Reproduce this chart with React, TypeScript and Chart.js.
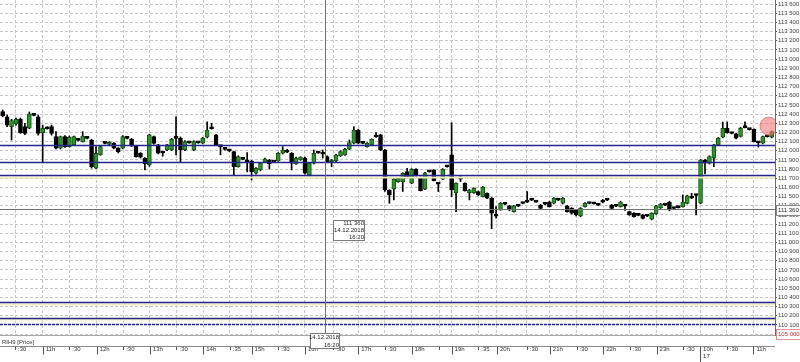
import React, { useEffect, useRef } from 'react';
import { Chart, registerables } from 'chart.js';

Chart.register(...registerables);

// 5-minute candles, RIH9
const opens = [
  112426, 112370, 112262, 112292, 112343, 112262, 112245, 112395, 112370, 112197,
  112250, 112262, 112153, 112027, 112153, 112044, 112063, 112120, 112100, 112140,
  112117, 111810, 111954, 112090, 112070, 112080, 112030, 112027, 112140, 112125,
  112052, 111972, 111921, 111845, 112153, 112063, 111990, 112008, 112008, 112140,
  112139, 112008, 112090, 112008, 112090, 112082, 112147, 112248, 112172, 112050,
  112020, 112005, 111990, 111826, 111910, 111885, 111888, 111754, 111790, 111877,
  111899, 111880, 111890, 111972, 112008, 111972, 111856, 111899, 111921, 111736,
  111863, 111980, 111968, 111935, 111877, 111888, 111943, 111954, 112016, 112082,
  112226, 112085, 112044, 112063, 112155, 112172, 112008, 111572, 111580, 111662,
  111662, 111772, 111645, 111798, 111710, 111580, 111775, 111790, 111640, 111690,
  111830, 111954, 111542, 111695, 111645, 111542, 111542, 111553, 111500, 111536,
  111482, 111292, 111354, 111422, 111398, 111335, 111402, 111430, 111445, 111466,
  111445, 111408, 111422, 111441, 111427, 111466, 111427, 111398, 111372, 111354,
  111289, 111390, 111430, 111428, 111412, 111443, 111466, 111408, 111400, 111390,
  111400, 111335, 111318, 111300, 111300, 111292, 111253, 111310, 111376, 111412,
  111441, 111376, 111385, 111390, 111425, 111488, 111520, 111427, 111899, 111863,
  111918, 112063, 112147, 112245, 112194, 112183, 112155, 112258, 112236, 112234,
  112092, 112082, 112158, 112147,
];
const highs = [
  112444, 112390, 112343, 112357, 112357, 112300, 112423, 112400, 112390, 112280,
  112260, 112280, 112208, 112160, 112165, 112160, 112160, 112125, 112208, 112145,
  112125, 112044, 112055, 112095, 112100, 112090, 112035, 112165, 112145, 112135,
  112060, 111980, 111925, 112180, 112160, 112070, 111995, 112070, 112135, 112370,
  112150, 112110, 112095, 112110, 112095, 112145, 112314, 112300, 112180, 112055,
  112025, 112010, 111995, 111945, 111915, 111980, 111895, 111815, 111870, 111920,
  111905, 111885, 111980, 112044, 112015, 111980, 111930, 111935, 111930, 111870,
  112008, 111985, 112008, 111945, 111905, 111960, 112000, 112025, 112117, 112262,
  112235, 112090, 112090, 112130, 112197, 112180, 112015, 111575, 111695, 111705,
  111760, 111808, 111805, 111805, 111715, 111765, 111780, 111795, 111645, 111805,
  111835, 112306, 111650, 111718, 111650, 111580, 111595, 111560, 111610, 111540,
  111490, 111390, 111435, 111430, 111405, 111405, 111408, 111435, 111555, 111470,
  111450, 111415, 111428, 111450, 111490, 111470, 111490, 111405, 111380, 111360,
  111380, 111435, 111435, 111432, 111418, 111470, 111470, 111415, 111405, 111450,
  111405, 111340, 111325, 111305, 111305, 111296, 111325, 111405, 111425, 111418,
  111450, 111380, 111390, 111518, 111515, 111535, 111525, 111905, 111905, 111945,
  112070, 112145, 112314, 112314, 112200, 112190, 112255, 112314, 112242, 112240,
  112097, 112160, 112162, 112215,
];
const lows = [
  112370, 112262, 112117, 112280, 112190, 112175, 112240, 112380, 112170, 111880,
  112235, 112170, 112020, 112020, 112035, 112040, 112055, 112105, 112095, 112130,
  111810, 111805, 111950, 112075, 112065, 112020, 111975, 112020, 112130, 112045,
  111930, 111920, 111790, 111830, 112070, 111965, 111940, 112000, 112000, 111955,
  111870, 112000, 112080, 112000, 112080, 112075, 112140, 112235, 112055, 111955,
  112005, 111990, 111735, 111820, 111900, 111770, 111681, 111745, 111780, 111870,
  111800, 111870, 111885, 111965, 111980, 111790, 111850, 111895, 111745, 111725,
  111855, 111970, 111920, 111875, 111825, 111880, 111935, 111950, 112010, 112075,
  112075, 112075, 112040, 112055, 112145, 112000, 111555, 111427, 111463, 111655,
  111555, 111705, 111640, 111720, 111560, 111575, 111765, 111670, 111555, 111685,
  111820, 111500, 111335, 111665, 111560, 111463, 111535, 111510, 111495, 111478,
  111150, 111265, 111350, 111410, 111345, 111330, 111390, 111420, 111435, 111455,
  111435, 111365, 111410, 111385, 111420, 111455, 111420, 111330, 111310, 111290,
  111280, 111385, 111420, 111418, 111400, 111432, 111455, 111365, 111390, 111385,
  111350, 111295, 111275, 111290, 111255, 111280, 111245, 111305, 111370, 111400,
  111345, 111365, 111375, 111385, 111420, 111478, 111300, 111420, 111747, 111855,
  111826, 112055, 112140, 112190, 112183, 112130, 112150, 112248, 112225, 112095,
  112040, 112075, 112148, 112140,
];
const closes = [
  112379, 112280, 112328, 112343, 112197, 112190, 112401, 112385, 112190, 112245,
  112240, 112190, 112027, 112153, 112044, 112147, 112153, 112112, 112161, 112135,
  111826, 111972, 112044, 112080, 112090, 112027, 111990, 112153, 112135, 112052,
  111936, 111930, 111856, 112172, 112080, 111972, 111975, 112063, 112125, 112135,
  112008, 112100, 112085, 112100, 112085, 112139, 112226, 112240, 112063, 112045,
  112015, 111998, 111826, 111936, 111905, 111880, 111772, 111808, 111863, 111910,
  111856, 111875, 111972, 112008, 111985, 111863, 111921, 111930, 111754, 111863,
  111972, 111975, 111962, 111880, 111899, 111953, 111990, 112016, 112088, 112226,
  112082, 112080, 112082, 112125, 112150, 112008, 111572, 111518, 111689, 111700,
  111754, 111710, 111798, 111725, 111564, 111760, 111770, 111674, 111635, 111798,
  111825, 111572, 111645, 111690, 111565, 111572, 111590, 111518, 111602, 111482,
  111318, 111286, 111427, 111416, 111354, 111398, 111396, 111424, 111440, 111460,
  111440, 111372, 111416, 111390, 111481, 111460, 111481, 111335, 111318, 111299,
  111372, 111427, 111424, 111422, 111406, 111438, 111460, 111372, 111394, 111441,
  111394, 111299, 111281, 111294, 111262, 111286, 111318, 111398, 111419, 111406,
  111354, 111370, 111380, 111441, 111507, 111482, 111512, 111899, 111863, 111936,
  112063, 112136, 112245, 112197, 112188, 112136, 112245, 112252, 112230, 112099,
  112086, 112153, 112152, 112208,
];

const levelLines = [112059, 111877, 111732, 110354, 110180, 110105];
const paleLines = [111712, 110330, 110160];
const crossIndex = 72.5;
const crossValue = 111360;
const crossDate = '14.12.2018';
const crossTime = '16:20';
const markerIndex = 172.4;
const markerValue = 112268;
const redAxisLabel = '105 000';
const seriesName = 'RIH9 [Price]';

const xTickPositions = [
  2.8, 9, 15, 21.15, 27.1, 33.1, 39.1, 45.1, 51.1, 56, 62, 68, 74.4, 80, 86, 92,
  98.2, 101, 107, 111.2, 117.9, 123.1, 129.1, 135.1, 141.1, 147.1, 153.1, 156.9,
  162.9, 168.9,
];
const xTickLabels = [
  ':30', '11h', ':30', '12h', ':30', '13h', ':30', '14h', ':35', '15h', ':30', '16h',
  ':30', '17h', ':30', '18h', '', '19h', ':35', '20h', ':30', '21h', ':30', '22h',
  ':30', '23h', ':30', '10h', ':30', '11h',
];
const dayChangeLabel = '10h';
const dayChangeDate = '17';

const yMin = 109990;
const yMax = 113644;
const yTickValues = Array.from({ length: 37 }, (_, i) => 110000 + i * 100);

const FAMILY = "'Liberation Sans', Arial, sans-serif";
const CFONT = `6px ${FAMILY}`;

const fmt = (v: number) => `${Math.floor(v / 1000)} ${String(Math.round(v) % 1000).padStart(3, '0')}`;

const overlay = {
  id: 'overlay',
  afterDatasetsDraw(chart: any) {
    const { ctx, chartArea: a, scales } = chart;
    const x = scales.x;
    const y = scales.y;
    ctx.save();
    ctx.beginPath();
    ctx.rect(a.left, a.top, a.right - a.left, a.bottom - a.top);
    ctx.clip();
    const hline = (v: number, color: string, w: number, dash: number[] = []) => {
      const py = Math.round(y.getPixelForValue(v)) + 0.5;
      ctx.strokeStyle = color;
      ctx.lineWidth = w;
      ctx.setLineDash(dash);
      ctx.beginPath();
      ctx.moveTo(a.left, py);
      ctx.lineTo(a.right, py);
      ctx.stroke();
    };
    paleLines.forEach((v) => hline(v, '#f3efc4', 2));
    levelLines.forEach((v, i) => hline(v, '#25258e', 1.5, i === levelLines.length - 1 ? [3, 1] : []));
    // crosshair
    hline(crossValue, '#707070', 1);
    const cx = Math.round(x.getPixelForValue(crossIndex)) + 0.5;
    ctx.setLineDash([]);
    ctx.beginPath();
    ctx.moveTo(cx, a.top);
    ctx.lineTo(cx, a.bottom);
    ctx.stroke();
    ctx.restore();
  },
  afterDraw(chart: any) {
    const { ctx, chartArea: a, scales } = chart;
    const x = scales.x;
    const y = scales.y;
    ctx.save();
    ctx.font = CFONT;
    ctx.textBaseline = 'middle';
    // series name
    ctx.fillStyle = '#333';
    ctx.textAlign = 'left';
    ctx.fillText(seriesName, 2, a.bottom + 7);
    // time band line
    const bandY = a.bottom + 11.5;
    ctx.strokeStyle = '#8a8a8a';
    ctx.lineWidth = 1;
    ctx.beginPath();
    ctx.moveTo(a.left, bandY);
    ctx.lineTo(a.right, bandY);
    ctx.stroke();
    ctx.strokeStyle = '#555';
    xTickPositions.forEach((v, i) => {
      const px = Math.round(x.getPixelForValue(v)) + 0.5;
      const lab = xTickLabels[i];
      const isHour = lab.endsWith('h');
      const len = lab === dayChangeLabel ? 16 : isHour ? 8 : 3.5;
      ctx.beginPath();
      ctx.moveTo(px, bandY);
      ctx.lineTo(px, bandY + len);
      ctx.stroke();
    });
    // crosshair boxes
    const cx = Math.round(x.getPixelForValue(crossIndex)) + 0.5;
    const cy = Math.round(y.getPixelForValue(crossValue)) + 0.5;
    const box = (l: number, t: number, w: number, h: number, stroke: string) => {
      ctx.fillStyle = '#fff';
      ctx.fillRect(l, t, w, h);
      ctx.strokeStyle = stroke;
      ctx.lineWidth = 1;
      ctx.strokeRect(l + 0.5, t + 0.5, w - 1, h - 1);
    };
    // in plot
    const bl = Math.round(cx + 7);
    const bt = Math.round(cy + 10);
    box(bl, bt, 32, 21, '#7a7a7a');
    ctx.fillStyle = '#222';
    ctx.textAlign = 'right';
    ctx.fillText(fmt(crossValue), bl + 31, bt + 3.5);
    ctx.fillText(crossDate, bl + 31, bt + 10.5);
    ctx.fillText(crossTime, bl + 31, bt + 17.5);
    // on x band
    const xl = Math.round(cx - 15.5);
    const xt = Math.round(a.bottom - 2);
    box(xl, xt, 30, 16, '#7a7a7a');
    ctx.fillStyle = '#222';
    ctx.fillText(crossDate, xl + 29, xt + 4.5);
    ctx.fillText(crossTime, xl + 29, xt + 12);
    // on y axis
    box(a.right + 1, Math.round(cy - 5), 25, 11, '#8a8a8a');
    ctx.fillStyle = '#222';
    ctx.textAlign = 'left';
    ctx.fillText(fmt(crossValue), a.right + 3, cy + 0.5);
    // red label at bottom
    box(a.right + 1, Math.round(a.bottom - 6), 25, 11, '#e29090');
    ctx.fillStyle = '#d02a2a';
    ctx.fillText(redAxisLabel, a.right + 3, a.bottom - 0.5);
    ctx.restore();
  },
};

export default function App() {
  const ref = useRef<HTMLCanvasElement>(null);
  useEffect(() => {
    const canvas = ref.current;
    if (!canvas) return;
    const idx = opens.map((_, i) => i);
    const up = idx.map((i) => closes[i] > opens[i]);
    const bodies = idx.map((i) => ({ x: i, y: [Math.min(opens[i], closes[i]), Math.max(opens[i], closes[i])] }));
    const wicks = idx.map((i) => ({ x: i, y: [lows[i], highs[i]] }));
    const font = { family: FAMILY, size: 6 };
    const chart = new Chart(canvas, {
      type: 'bar',
      data: {
        datasets: [
          {
            type: 'scatter',
            data: [{ x: markerIndex, y: markerValue }],
            pointRadius: 9,
            backgroundColor: 'rgba(238,120,120,0.6)',
            borderColor: 'rgba(215,90,90,0.7)',
            borderWidth: 1,
            order: 0,
          } as any,
          {
            type: 'bar',
            data: bodies as any,
            backgroundColor: up.map((u) => (u ? '#2f962f' : '#000000')),
            borderColor: up.map((u) => (u ? '#145214' : '#000000')),
            borderWidth: 1,
            borderSkipped: false,
            barThickness: 4,
            minBarLength: 2,
            grouped: false,
            order: 1,
          } as any,
          {
            type: 'bar',
            data: wicks as any,
            backgroundColor: '#000000',
            barThickness: 1,
            grouped: false,
            order: 2,
          } as any,
        ],
      },
      options: {
        responsive: false,
        animation: false,
        events: [],
        layout: { padding: 0, autoPadding: false },
        plugins: {
          legend: { display: false },
          tooltip: { enabled: false },
          title: { display: false },
        },
        scales: {
          x: {
            type: 'linear',
            offset: false,
            min: -0.6,
            max: 173.75,
            afterBuildTicks: (s: any) => {
              s.ticks = xTickPositions.map((v) => ({ value: v }));
            },
            afterFit: (s: any) => {
              s.height = 27;
              s.paddingLeft = 0;
              s.paddingRight = 0;
              s.paddingTop = 0;
              s.paddingBottom = 0;
            },
            ticks: {
              autoSkip: false,
              maxRotation: 0,
              minRotation: 0,
              align: 'start',
              labelOffset: 3,
              padding: 11,
              font,
              color: '#333',
              callback: (_v: any, i: number) =>
                xTickLabels[i] === dayChangeLabel ? [dayChangeLabel, dayChangeDate] : xTickLabels[i],
            },
            grid: { color: '#c6c6c6', drawTicks: false, lineWidth: 1, offset: false },
            border: { display: true, color: '#a8a8a8', dash: [3, 2] },
          },
          y: {
            type: 'linear',
            position: 'right',
            min: yMin,
            max: yMax,
            afterBuildTicks: (s: any) => {
              s.ticks = yTickValues.map((v) => ({ value: v }));
            },
            afterFit: (s: any) => {
              s.width = 25;
              s.paddingLeft = 0;
              s.paddingRight = 0;
              s.paddingTop = 0;
              s.paddingBottom = 0;
            },
            ticks: {
              autoSkip: false,
              padding: 1,
              font,
              color: '#404040',
              callback: (v: any) => fmt(Number(v)),
            },
            grid: { color: '#c6c6c6', tickColor: '#555', tickLength: 2, drawTicks: true, lineWidth: 1 },
            border: { display: true, color: '#6a6a6a', dash: [3, 2] },
          },
        },
      } as any,
      plugins: [overlay],
    });
    return () => chart.destroy();
  }, []);
  return (
    <div style={{ position: 'fixed', left: 0, top: 0, width: 800, height: 362, background: '#fff' }}>
      <canvas ref={ref} width={800} height={362} style={{ display: 'block' }} />
    </div>
  );
}
